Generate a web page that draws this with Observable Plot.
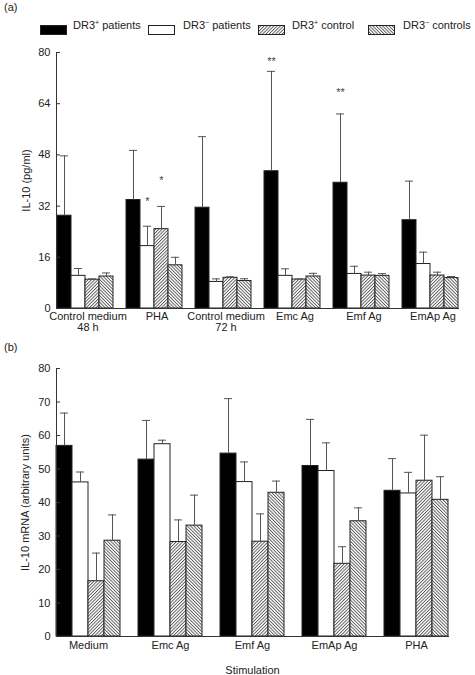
<!DOCTYPE html>
<html><head><meta charset="utf-8">
<script src="https://cdn.jsdelivr.net/npm/d3@7"></script>
<script src="https://cdn.jsdelivr.net/npm/@observablehq/plot@0.6"></script>
<style>
body{margin:0;background:#fff;font-family:"Liberation Sans",Arial,Helvetica,sans-serif;color:#222;}
#root{position:relative;width:475px;height:675px;overflow:hidden;background:#fff;}
.abs{position:absolute;white-space:nowrap;}
.t{font-size:11px;line-height:11px;}
sup{font-size:7px;line-height:0;vertical-align:4px;}
</style></head><body>
<svg width="0" height="0" style="position:absolute">
<defs>
<pattern id="hatchUp" patternUnits="userSpaceOnUse" width="2.3" height="2.3" patternTransform="rotate(45)">
<rect width="2.3" height="2.3" fill="#fff"/><line x1="0.5" y1="0" x2="0.5" y2="2.3" stroke="#333" stroke-width="0.75"/></pattern>
<pattern id="hatchDown" patternUnits="userSpaceOnUse" width="2.3" height="2.3" patternTransform="rotate(-45)">
<rect width="2.3" height="2.3" fill="#fff"/><line x1="0.5" y1="0" x2="0.5" y2="2.3" stroke="#333" stroke-width="0.75"/></pattern>
</defs></svg>
<div id="root">
  <div class="abs t" style="left:4px;top:2px;">(a)</div>
  <div id="legend"></div>
  <div id="pa" class="abs" style="left:0;top:38px;"></div>
  <div class="abs t" style="left:4px;top:342px;">(b)</div>
  <div id="pb" class="abs" style="left:0;top:356px;"></div>
</div>
<script>
// ---- data ----
const series = ["DR3+ patients", "DR3− patients", "DR3+ control", "DR3− controls"];
const legendHtml = ["DR3<sup>+</sup> patients", "DR3<sup>−</sup> patients", "DR3<sup>+</sup> control", "DR3<sup>−</sup> controls"];

// Panel (a): IL-10 (pg/ml)
const groupsA = ["Control medium\n48 h", "PHA", "Control medium\n72 h", "Emc Ag", "Emf Ag", "EmAp Ag"];
const ticksA = [0, 16, 32, 48, 64, 80];
const a_dr3pPatients = [29.0, 33.9, 31.5, 42.9, 39.3, 27.6];
const a_dr3pPatientsErr = [47.7, 49.4, 53.7, 74.1, 60.8, 39.8];
const a_dr3nPatients = [10.2, 19.5, 8.3, 10.2, 10.8, 13.9];
const a_dr3nPatientsErr = [12.5, 25.7, 9.25, 12.4, 13.2, 17.6];
const a_dr3pControl = [9.0, 24.8, 9.6, 9.06, 10.3, 10.3];
const a_dr3pControlErr = [9.25, 31.9, 9.9, 9.2, 11.35, 11.35];
const a_dr3nControls = [10.0, 13.5, 8.6, 10.0, 10.2, 9.5];
const a_dr3nControlsErr = [11.1, 16.0, 9.3, 11.0, 10.9, 10.0];
const starGroups = ["PHA", "PHA", "Emc Ag", "Emf Ag"];
const starSeries = ["DR3− patients", "DR3+ control", "DR3+ patients", "DR3+ patients"];
const starValues = [34.5, 40.9, 78.2, 68.6];
const starTexts = ["*", "*", "**", "**"];

// Panel (b): IL-10 mRNA (arbitrary units)
const groupsB = ["Medium", "Emc Ag", "Emf Ag", "EmAp Ag", "PHA"];
const ticksB = [0, 10, 20, 30, 40, 50, 60, 70, 80];
const b_dr3pPatients = [56.9, 52.8, 54.6, 50.9, 43.5];
const b_dr3pPatientsErr = [66.7, 64.5, 71.0, 64.8, 53.1];
const b_dr3nPatients = [46.0, 57.4, 46.1, 49.4, 42.7];
const b_dr3nPatientsErr = [49.1, 58.6, 52.1, 57.8, 49.0];
const b_dr3pControl = [16.5, 28.2, 28.3, 21.7, 46.5];
const b_dr3pControlErr = [24.9, 34.8, 36.6, 26.8, 60.1];
const b_dr3nControls = [28.6, 33.1, 42.9, 34.4, 40.8];
const b_dr3nControlsErr = [36.3, 42.2, 46.4, 38.4, 47.7];

const fills = ["#000", "#fff", "url(#hatchUp)", "url(#hatchDown)"];
const FONT = '"Liberation Sans", Arial, Helvetica, sans-serif';

// ---- legend ----
const legendSwatchX = [40, 148, 258, 368];
const legendTextX = [73, 183, 292, 403];
const leg = document.getElementById("legend");
series.forEach((s, i) => {
  const sw = document.createElement("div");
  sw.className = "abs";
  sw.style.left = legendSwatchX[i] + "px"; sw.style.top = "21px";
  sw.innerHTML = `<svg width="27" height="10"><rect x="0.5" y="0.5" width="26" height="9" fill="${fills[i]}" stroke="#222" stroke-width="1"/></svg>`;
  leg.appendChild(sw);
  const tx = document.createElement("div");
  tx.className = "abs t";
  tx.style.left = legendTextX[i] + "px"; tx.style.top = "20px";
  tx.innerHTML = legendHtml[i];
  leg.appendChild(tx);
});

function makeRows(groups, means, errs) {
  const rows = [];
  groups.forEach((g, i) => series.forEach((s, j) => rows.push({group: g, series: s, value: means[j][i], err: errs[j][i]})));
  return rows;
}

function frameMarks() {
  try {
    return [Plot.frame({anchor: "bottom", facet: "super", stroke: "#333"}),
            Plot.frame({anchor: "left", facet: "super", stroke: "#333"})];
  } catch (e) { return []; }
}

function panel(cfg) {
  const rows = makeRows(cfg.groups, cfg.means, cfg.errs);
  const marks = [];
  series.forEach((s, j) => marks.push(Plot.barY(rows.filter(d => d.series === s),
    {fx: "group", x: "series", y: "value", fill: fills[j], stroke: "#222", strokeWidth: 1})));
  marks.push(Plot.ruleX(rows, {fx: "group", x: "series", y1: "value", y2: "err", stroke: "#555"}));
  marks.push(Plot.tickY(rows, {fx: "group", x: "series", y: "err", stroke: "#555", insetLeft: cfg.capInset, insetRight: cfg.capInset}));
  if (cfg.stars) marks.push(Plot.text(cfg.stars, {fx: "group", x: "series", y: "y", text: "text", fontSize: 11, dy: 3, fill: "#444"}));
  marks.push(...frameMarks());
  marks.push(Plot.axisY({ticks: cfg.ticks, tickSize: -4, tickPadding: 10, stroke: "#333",
    label: cfg.yLabel, labelAnchor: "center", labelArrow: "none", labelOffset: cfg.marginLeft - 5}));
  marks.push(Plot.axisFx({anchor: "bottom", tickSize: 0, tickPadding: cfg.tickPadding, dx: cfg.labelDx,
    label: cfg.xLabel, labelAnchor: "center", labelArrow: "none", labelOffset: cfg.xLabelOffset}));
  return Plot.plot({
    width: 475, height: cfg.height,
    marginTop: cfg.marginTop, marginBottom: cfg.marginBottom, marginLeft: cfg.marginLeft, marginRight: cfg.marginRight,
    style: {fontFamily: FONT, fontSize: "11px", color: "#222", background: "#fff"},
    fx: {domain: cfg.groups, paddingInner: cfg.pi, paddingOuter: cfg.po, align: cfg.align},
    x: {domain: series, padding: 0, axis: null},
    y: {domain: [0, 80]},
    marks
  });
}

const starRows = starGroups.map((g, i) => ({group: g, series: starSeries[i], y: starValues[i], text: starTexts[i]}));

document.getElementById("pa").appendChild(panel({
  groups: groupsA,
  means: [a_dr3pPatients, a_dr3nPatients, a_dr3pControl, a_dr3nControls],
  errs: [a_dr3pPatientsErr, a_dr3nPatientsErr, a_dr3pControlErr, a_dr3nControlsErr],
  ticks: ticksA, yLabel: "IL-10 (pg/ml)", xLabel: null, xLabelOffset: 0, labelDx: 3,
  height: 300, marginTop: 14, marginBottom: 30, marginLeft: 39, marginRight: 1,
  pi: 0.181, po: 0.2155, align: 0.5, capInset: 3, tickPadding: 4, stars: starRows
}));

document.getElementById("pb").appendChild(panel({
  groups: groupsB,
  means: [b_dr3pPatients, b_dr3nPatients, b_dr3pControl, b_dr3nControls],
  errs: [b_dr3pPatientsErr, b_dr3nPatientsErr, b_dr3pControlErr, b_dr3nControlsErr],
  ticks: ticksB, yLabel: "IL-10 mRNA (arbitrary units)", xLabel: "Stimulation", xLabelOffset: 37, labelDx: 0,
  height: 319, marginTop: 12, marginBottom: 39, marginLeft: 40, marginRight: 1,
  pi: 0.222, po: 0.249, align: 0.39, capInset: 4, tickPadding: 5, stars: null
}));
</script>
</body></html>
